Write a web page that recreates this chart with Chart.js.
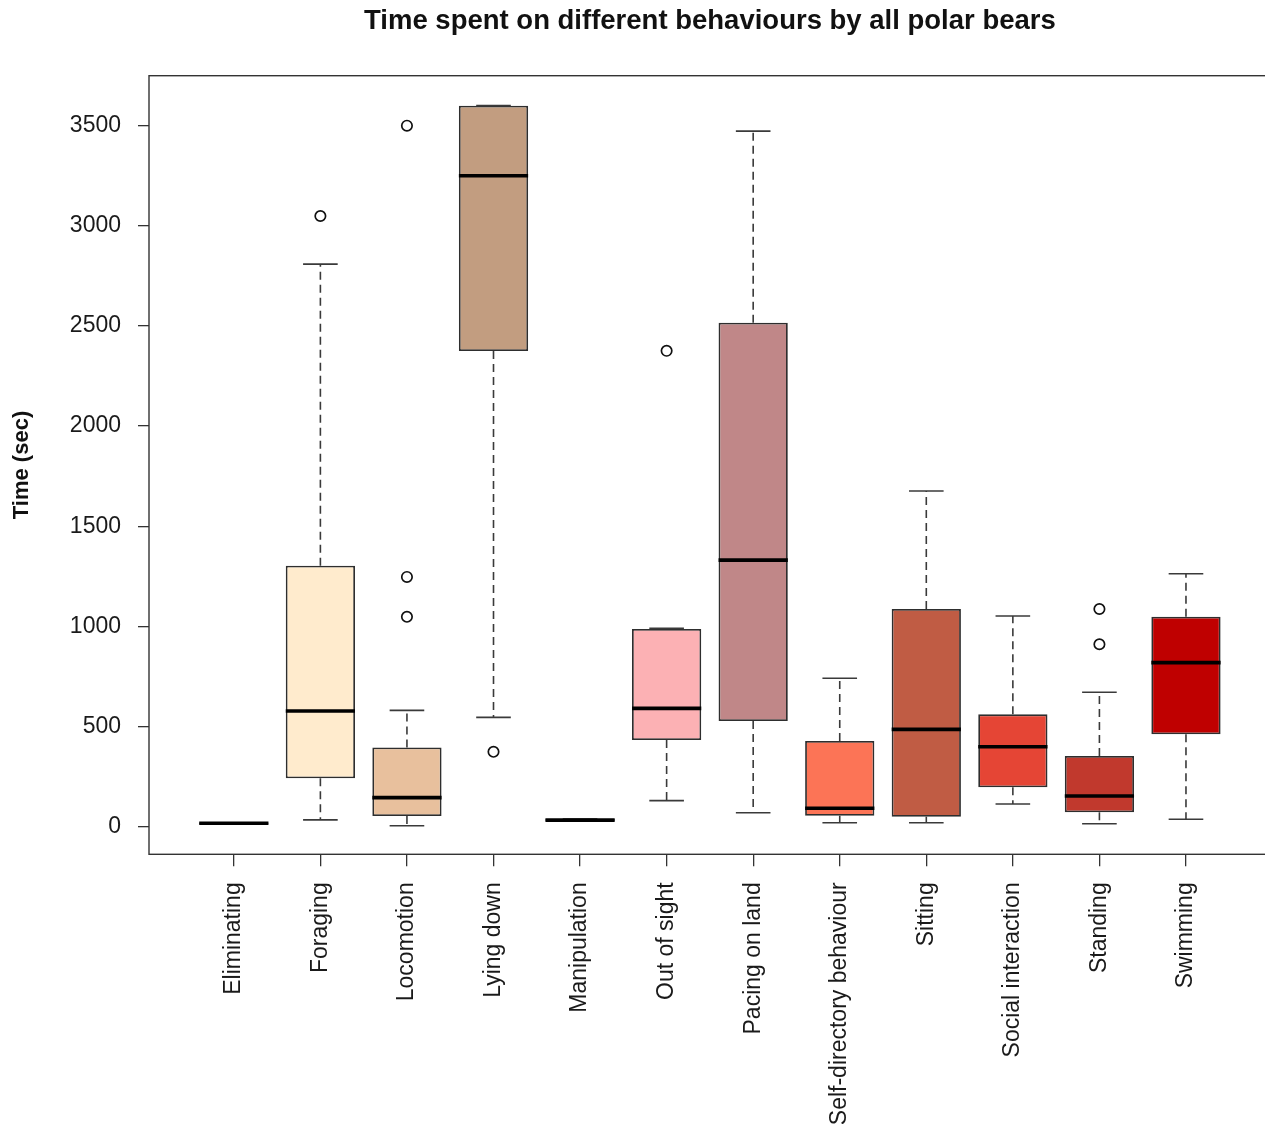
<!DOCTYPE html>
<html>
<head>
<meta charset="utf-8">
<title>Time spent on different behaviours by all polar bears</title>
<script src="https://cdn.jsdelivr.net/npm/chart.js@4.4.1/dist/chart.umd.min.js"></script>
<style>
	html, body { margin: 0; padding: 0; background: #fff; overflow: hidden; }
	canvas { display: block; }
</style>
</head>
<body>
<canvas id="boxChart" width="1280" height="1124"></canvas>
<script>
// behaviours and their box statistics (seconds)
const categories = ['Eliminating', 'Foraging', 'Locomotion', 'Lying down', 'Manipulation', 'Out of sight',
	'Pacing on land', 'Self-directory behaviour', 'Sitting', 'Social interaction', 'Standing', 'Swimming'];
const whiskerLow = [17, 34, 5, 546, 30, 130, 70, 20, 20, 113, 15, 37];
const q1 = [14, 242, 53, 2375, 28, 433, 528, 55, 50, 197, 72, 461];
const median = [17, 578, 145, 3250, 33, 591, 1331, 92, 486, 399, 153, 819];
const q3 = [20, 1303, 396, 3600, 38, 987, 2516, 428, 1087, 561, 353, 1048];
const whiskerHigh = [20, 2809, 581, 3600, 38, 990, 3473, 741, 1676, 1052, 671, 1263];
const outliers = [[], [3049], [3500, 1247, 1048], [374], [], [2376], [], [], [], [], [1087, 911], []];
const boxColors = ['#FFF1DC', '#FFEBCD', '#E8C09D', '#C29D80', '#D9A78B', '#FCB1B4',
	'#C08788', '#FC7456', '#C05C44', '#E54535', '#C1392D', '#BF0000'];
const yTicks = [0, 500, 1000, 1500, 2000, 2500, 3000, 3500];

const FONT = "'Liberation Sans', Arial, Helvetica, sans-serif";

// whiskers, staples and medians on top of the boxes
const whiskerPlugin = {
	id: 'whiskers',
	afterDatasetsDraw(chart) {
		const ctx = chart.ctx;
		const xs = chart.scales.x;
		const ys = chart.scales.y;
		const boxes = chart.getDatasetMeta(0).data;
		ctx.save();
		categories.forEach((c, i) => {
			const x = xs.getPixelForValue(i + 1);
			const half = boxes[i].width / 2;
			ctx.strokeStyle = '#3a3a3a';
			ctx.lineWidth = 1.6;
			ctx.setLineDash([8, 5]);
			if (whiskerHigh[i] > q3[i]) {
				ctx.beginPath();
				ctx.moveTo(x, ys.getPixelForValue(q3[i]));
				ctx.lineTo(x, ys.getPixelForValue(whiskerHigh[i]));
				ctx.stroke();
			}
			if (whiskerLow[i] < q1[i]) {
				ctx.beginPath();
				ctx.moveTo(x, ys.getPixelForValue(q1[i]));
				ctx.lineTo(x, ys.getPixelForValue(whiskerLow[i]));
				ctx.stroke();
			}
			ctx.setLineDash([]);
			[whiskerLow[i], whiskerHigh[i]].forEach(v => {
				const y = ys.getPixelForValue(v);
				ctx.beginPath();
				ctx.moveTo(x - half / 2, y);
				ctx.lineTo(x + half / 2, y);
				ctx.stroke();
			});
			const ym = ys.getPixelForValue(median[i]);
			ctx.strokeStyle = '#000';
			ctx.lineWidth = 3.6;
			ctx.beginPath();
			ctx.moveTo(x - half, ym);
			ctx.lineTo(x + half, ym);
			ctx.stroke();
		});
		ctx.restore();
	}
};

// plot frame
const framePlugin = {
	id: 'frame',
	afterDraw(chart) {
		const {ctx, chartArea: a} = chart;
		ctx.save();
		ctx.strokeStyle = '#333';
		ctx.lineWidth = 1.4;
		ctx.strokeRect(a.left, a.top, a.right - a.left, a.bottom - a.top);
		ctx.restore();
	}
};

new Chart(document.getElementById('boxChart'), {
	type: 'bar',
	data: {
		datasets: [{
			label: 'IQR',
			data: categories.map((c, i) => ({x: i + 1, y: [q1[i], q3[i]]})),
			backgroundColor: boxColors,
			borderColor: '#2e2e2e',
			borderWidth: 1.8,
			borderSkipped: false,
			barPercentage: 0.8,
			categoryPercentage: 1.0
		}, {
			type: 'scatter',
			label: 'Outliers',
			data: outliers.flatMap((vals, i) => vals.map(v => ({x: i + 1, y: v}))),
			pointRadius: 5.2,
			pointBorderWidth: 1.7,
			pointBackgroundColor: 'rgba(0,0,0,0)',
			pointBorderColor: '#111'
		}]
	},
	options: {
		responsive: false,
		animation: false,
		devicePixelRatio: 1,
		layout: {padding: {left: 0, right: 9.2, top: 0, bottom: 0}},
		plugins: {
			legend: {display: false},
			tooltip: {enabled: false},
			title: {
				display: true,
				text: 'Time spent on different behaviours by all polar bears',
				fullSize: false,
				color: '#111',
				font: {family: FONT, size: 27.5, weight: 'bold'},
				padding: {top: 5, bottom: 37.7}
			}
		},
		scales: {
			x: {
				type: 'linear',
				min: 0.02,
				max: 12.98,
				offset: false,
				afterBuildTicks: scale => { scale.ticks = categories.map((c, i) => ({value: i + 1})); },
				afterFit: scale => { scale.height = 269.7; },
				grid: {offset: false, drawOnChartArea: false, drawTicks: true, tickLength: 12, color: '#333', lineWidth: 1.3},
				border: {display: false},
				ticks: {
					autoSkip: false,
					minRotation: 90,
					maxRotation: 90,
					padding: 16,
					color: '#1a1a1a',
					font: {family: FONT, size: 23},
					callback: value => categories[value - 1]
				}
			},
			y: {
				min: -137.8,
				max: 3749.6,
				afterBuildTicks: scale => { scale.ticks = yTicks.map(v => ({value: v})); },
				afterFit: scale => { scale.width = 149; },
				grid: {drawOnChartArea: false, drawTicks: true, tickLength: 11, color: '#333', lineWidth: 1.3},
				border: {display: false},
				ticks: {
					padding: 17,
					color: '#1a1a1a',
					font: {family: FONT, size: 23},
					callback: value => String(value)
				},
				title: {
					display: true,
					text: 'Time (sec)',
					color: '#111',
					font: {family: FONT, size: 22, weight: 'bold'},
					padding: {top: 9, bottom: 0}
				}
			}
		}
	},
	plugins: [whiskerPlugin, framePlugin]
});
</script>
</body>
</html>
